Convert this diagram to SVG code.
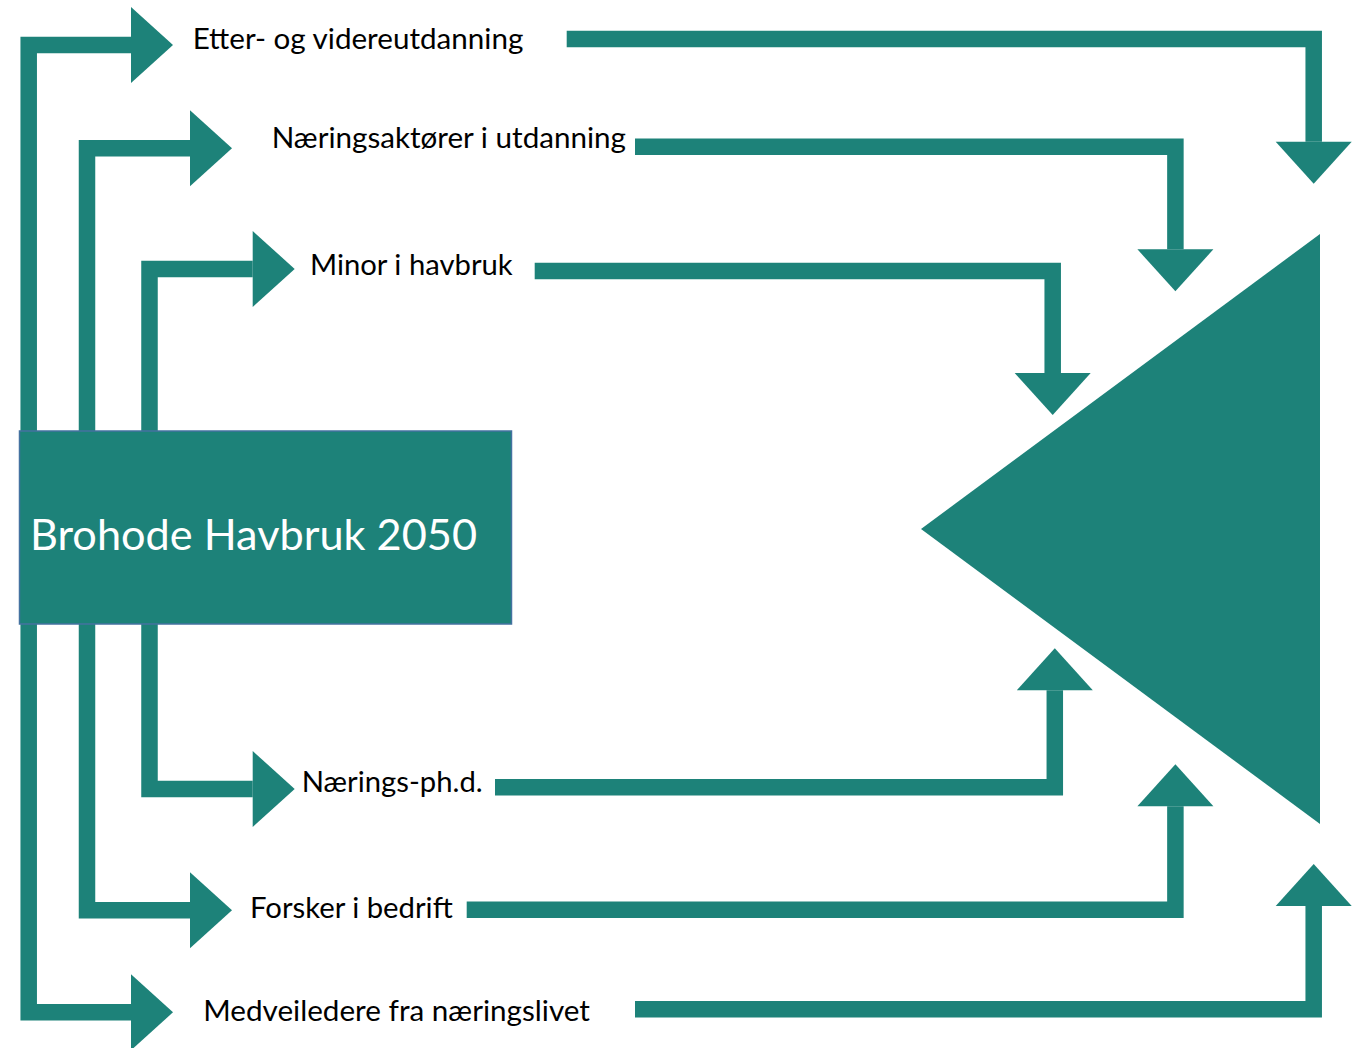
<svg xmlns="http://www.w3.org/2000/svg" width="1364" height="1048" viewBox="0 0 1364 1048">
<style>
.c{fill:none;stroke:#1d8279;stroke-width:16.5;stroke-linejoin:miter;stroke-linecap:butt;marker-end:url(#ah)}
.lbl{font-family:Lato,"Open Sans","Liberation Sans",sans-serif;font-size:29px;fill:#000}
.main{font-family:Lato,"Open Sans","Liberation Sans",sans-serif;font-size:42px;fill:#fff}
</style>
<defs>
<marker id="ah" markerUnits="userSpaceOnUse" markerWidth="42" markerHeight="76" viewBox="0 0 42 76" refX="0" refY="38" orient="auto" overflow="visible">
<path d="M0,0 L42,38 L0,76 Z" fill="#1d8279"/>
</marker>
</defs>
<rect width="1364" height="1048" fill="#fff"/>
<g id="connectors">
<path class="c" d="M28.7,431 V45 H131"/>
<path class="c" d="M87,431 V148.3 H190"/>
<path class="c" d="M149.5,431 V269 H252.7"/>
<path class="c" d="M149.5,624 V789 H252.7"/>
<path class="c" d="M87,624 V910.3 H190"/>
<path class="c" d="M28.7,624 V1012.3 H131"/>
<path class="c" d="M566.7,39 H1313.7 V141.7"/>
<path class="c" d="M635,146.7 H1175.4 V249.3"/>
<path class="c" d="M534.7,271 H1052.7 V373"/>
<path class="c" d="M495,787.2 H1054.8 V690.3"/>
<path class="c" d="M466.7,909.7 H1175.4 V806.3"/>
<path class="c" d="M635,1009.2 H1313.7 V906"/>
</g>
<g id="brohode">
<rect x="19.5" y="431" width="492" height="193" fill="#1d8279" stroke="#4472a0" stroke-width="1.5"/>
<text class="main" x="30" y="550" textLength="447" lengthAdjust="spacingAndGlyphs">Brohode Havbruk 2050</text>
</g>
<g id="target">
<polygon points="1320,234 921,529 1320,824" fill="#1d8279"/>
</g>
<g id="etter"><text class="lbl" x="192.7" y="49.3" textLength="330.6" lengthAdjust="spacingAndGlyphs">Etter- og videreutdanning</text></g>
<g id="naeringsaktorer"><text class="lbl" x="271.7" y="148.3" textLength="354.3" lengthAdjust="spacingAndGlyphs">Næringsaktører i utdanning</text></g>
<g id="minor"><text class="lbl" x="310" y="275" textLength="202.7" lengthAdjust="spacingAndGlyphs">Minor i havbruk</text></g>
<g id="phd"><text class="lbl" x="301.7" y="792.3" textLength="181" lengthAdjust="spacingAndGlyphs">Nærings-ph.d.</text></g>
<g id="forsker"><text class="lbl" x="250" y="918.3" textLength="202.7" lengthAdjust="spacingAndGlyphs">Forsker i bedrift</text></g>
<g id="medveiledere"><text class="lbl" x="203.3" y="1020.7" textLength="386.7" lengthAdjust="spacingAndGlyphs">Medveiledere fra næringslivet</text></g>
</svg>
